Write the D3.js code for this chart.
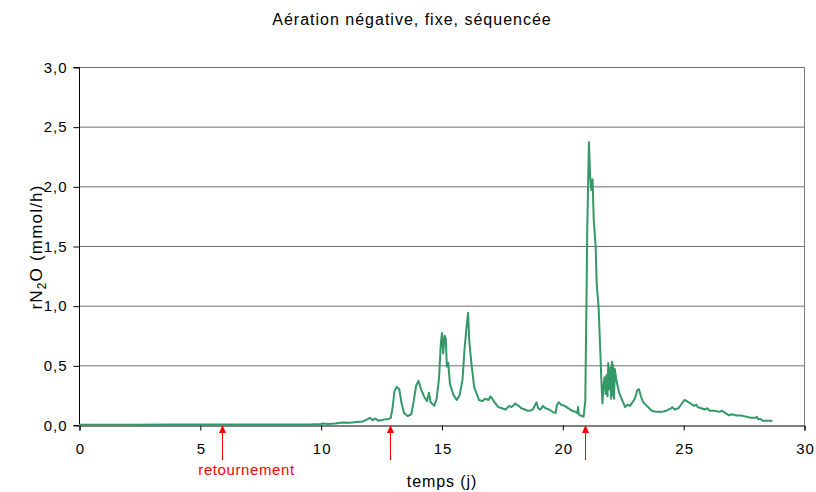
<!DOCTYPE html>
<html><head><meta charset="utf-8">
<script src="https://cdn.jsdelivr.net/npm/d3@7"></script>
<style>body{margin:0;background:#fff}svg{display:block;font-family:"Liberation Sans",Arial,sans-serif}</style>
</head><body><svg id="c" width="816" height="492"></svg>
<script>
const days = [0,2,4,6,8,9.5,10.0,10.1,10.3,10.6,10.9,11.2,11.5,11.75,11.9,12.05,12.15,12.25,12.4,12.6,12.8,12.9,12.98,13.05,13.15,13.25,13.35,13.45,13.6,13.75,13.85,13.95,14.05,14.15,14.3,14.4,14.48,14.55,14.7,14.8,14.9,14.97,15.02,15.07,15.13,15.18,15.22,15.28,15.35,15.5,15.63,15.75,15.87,15.95,16.05,16.1,16.15,16.22,16.35,
 16.55,16.7,16.8,16.95,17.02,17.1,17.2,17.35,17.5,17.65,17.8,17.9,18.05,18.1,18.2,18.3,18.45,18.55,18.66,18.78,18.88,18.93,19.0,19.1,19.2,19.3,19.45,19.6,19.72,19.78,19.85,19.95,20.1,20.25,20.4,20.55,20.62,20.65,20.68,20.75,20.88,
 20.95,21.0,21.03,21.07,21.1,21.15,21.2,21.25,21.3,21.38,21.42,21.5,21.58,21.62,21.66,21.7,21.75,21.79,21.83,21.87,21.9,21.94,21.98,22.02,22.05,22.08,22.1,22.14,22.17,22.25,22.35,
 22.6,22.7,22.8,22.9,23.0,23.1,23.17,23.25,23.35,23.5,23.7,23.9,24.1,24.3,24.5,24.55,24.65,24.8,24.95,25.05,25.15,25.3,25.45,25.55,25.6,25.75,25.9,26.0,26.1,26.3,26.5,26.6,26.75,26.9,27.0,27.2,27.4,27.6,27.8,28.0,28.05,28.1,28.2,28.3,28.5,28.7];
const rN2O = [0.003,0.003,0.004,0.004,0.005,0.005,0.008,0.012,0.008,0.012,0.02,0.018,0.025,0.03,0.045,0.06,0.04,0.055,0.035,0.045,0.05,0.06,0.15,0.28,0.32,0.30,0.18,0.10,0.075,0.09,0.2,0.33,0.37,0.3,0.23,0.2,0.27,0.19,0.16,0.22,0.4,0.68,0.77,0.6,0.75,0.72,0.49,0.52,0.34,0.25,0.21,0.25,0.38,0.63,0.85,0.94,0.7,0.55,0.32,
 0.21,0.20,0.22,0.21,0.24,0.22,0.19,0.15,0.14,0.13,0.16,0.15,0.18,0.17,0.16,0.14,0.13,0.12,0.12,0.13,0.17,0.19,0.14,0.13,0.16,0.14,0.13,0.11,0.10,0.17,0.19,0.17,0.16,0.14,0.12,0.11,0.10,0.15,0.09,0.08,0.07,
 0.20,1.07,1.63,2.05,2.37,2.08,1.97,2.06,1.72,1.49,1.19,0.99,0.57,0.35,0.18,0.33,0.40,0.26,0.42,0.24,0.52,0.30,0.48,0.22,0.53,0.25,0.50,0.22,0.47,0.36,0.27,
 0.15,0.17,0.16,0.19,0.22,0.29,0.30,0.24,0.19,0.16,0.12,0.11,0.11,0.12,0.14,0.15,0.13,0.14,0.18,0.21,0.20,0.18,0.16,0.17,0.15,0.14,0.13,0.14,0.12,0.12,0.11,0.12,0.10,0.08,0.09,0.08,0.08,0.07,0.06,0.06,0.07,0.05,0.05,0.035,0.035,0.035];
const xTicks = [0,5,10,15,20,25,30];
const yTicks = [0,0.5,1,1.5,2,2.5,3];
const arrowDays = [5.92,12.87,20.93];
const arrowLabels = ["retournement","",""];
const title = "Aération négative, fixe, séquencée";
const xTitle = "temps (j)";

const svg = d3.select("#c");
const L=79,R=804,T=67,B=425;
const x = d3.scaleLinear().domain([0,30]).range([L,R]);
const y = d3.scaleLinear().domain([0,3]).range([B,T]);
const fmt = d => d.toFixed(1).replace(".",",");

svg.append("g").selectAll("line").data(yTicks.filter(d=>d>0)).join("line")
  .attr("x1",L).attr("x2",R).attr("y1",d=>y(d)+0.5).attr("y2",d=>y(d)+0.5)
  .attr("stroke","#6e6e6e").attr("stroke-width",1);
svg.append("line").attr("x1",R+0.5).attr("x2",R+0.5).attr("y1",T).attr("y2",B).attr("stroke","#808080");

const yAxis = d3.axisLeft(y).tickValues(yTicks).tickFormat(fmt).tickSize(6).tickPadding(6);
const gy = svg.append("g").attr("transform",`translate(${L+0.5},0.5)`).call(yAxis);
const xAxis = d3.axisBottom(x).tickValues(xTicks).tickFormat(d=>d).tickSize(5).tickPadding(13);
const gx = svg.append("g").attr("transform",`translate(0.5,${B+0.5})`).call(xAxis);
[gx,gy].forEach(g=>{
  g.select(".domain").attr("stroke","#000");
  g.selectAll(".tick line").attr("stroke","#000");
  g.selectAll("text").attr("font-size",15).attr("letter-spacing",1).attr("fill","#000").attr("font-family","Liberation Sans, Arial, sans-serif");
});
gx.selectAll("text").attr("dx",0.5);
gy.select(".domain").attr("d",`M-6,${B}H0V${T}H-6`);

const pts = days.map((d,i)=>[d,rN2O[i]]);
svg.append("path").datum(pts)
  .attr("d",d3.line().x(d=>x(d[0])).y(d=>y(d[1])))
  .attr("fill","none").attr("stroke","#339966").attr("stroke-width",2).attr("stroke-linejoin","round");

const ag = svg.append("g");
arrowDays.forEach((d,i)=>{
  const ax = Math.round(x(d))+0.5;
  ag.append("line").attr("x1",ax).attr("x2",ax).attr("y1",B+6).attr("y2",B+35).attr("stroke","#ff0000").attr("stroke-width",1);
  ag.append("path").attr("d",`M${ax},${B}L${ax-3.5},${B+8}L${ax+3.5},${B+8}Z`).attr("fill","#ff0000");
  if(arrowLabels[i]) ag.append("text").attr("x",ax+24).attr("y",B+50).attr("text-anchor","middle")
     .attr("font-size",15).attr("letter-spacing",0.6).attr("fill","#ff0000").text(arrowLabels[i]);
});

svg.append("text").attr("x",412).attr("y",25).attr("text-anchor","middle").attr("font-size",16).attr("letter-spacing",1).text(title);
svg.append("text").attr("x",442).attr("y",487).attr("text-anchor","middle").attr("font-size",16).attr("letter-spacing",0.9).text(xTitle);
const yt = svg.append("text").attr("transform","translate(42,247) rotate(-90)").attr("text-anchor","middle").attr("font-size",17).attr("letter-spacing",1.2);
yt.append("tspan").text("rN");
yt.append("tspan").attr("font-size",12).attr("dy",4).text("2");
yt.append("tspan").attr("dy",-4).text("O (mmol/h)");
</script></body></html>
